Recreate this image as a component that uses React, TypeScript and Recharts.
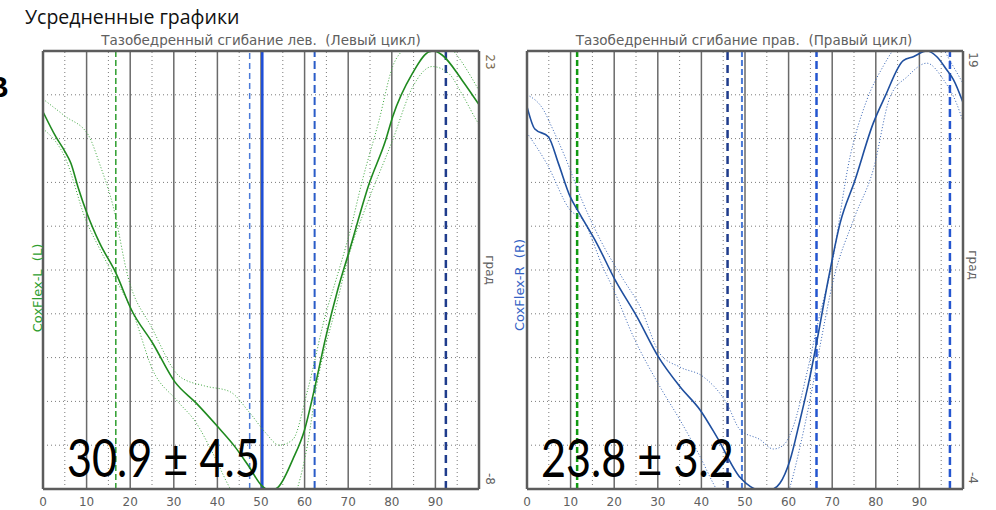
import React from "react";
import { LineChart, Line, XAxis, YAxis, CartesianGrid, ReferenceLine } from "recharts";

type Pt = { x: number; y: number };
const pts = (arr: number[][]): Pt[] => arr.map(([x, y]) => ({ x, y }));

// Левый цикл: среднее и ±СКО (град)
const leftMean = pts([
  [0, 18.7], [3, 16.9], [5, 15.9], [6.4, 15.05], [8, 13.4], [10.1, 11.5], [13, 9.4], [16.7, 7.3],
  [20.3, 4.67], [25.2, 2.3], [30.2, -0.4], [35.2, -1.94], [40.1, -3.6], [44, -5.0], [47, -6.3],
  [50.4, -7.84], [52, -8.1], [53.8, -7.9], [57.3, -5.9], [60, -3.8], [62.2, -1.0], [64.9, 2.8],
  [67.6, 6.1], [70.3, 8.9], [74.8, 13.6], [78.6, 16.7], [80.2, 18.35], [84.7, 21.4], [88.6, 22.95],
  [89.7, 23.0], [91.6, 22.7], [96.2, 20.9], [100, 19.2],
]);
const leftUpper = pts([
  [0, 19.6], [5, 18.4], [10.4, 17.05], [13, 15], [16.1, 12.0], [19.5, 7.0], [25, 3.4], [31.4, -0.05],
  [37, -0.7], [42.8, -1.1], [47.4, -2.6], [51, -4.0], [54.2, -4.9], [57.3, -4.5], [60.7, -1.0],
  [64.9, 4.45], [67.2, 6.8], [70.3, 10.1], [73.3, 13.9], [77, 18], [80.2, 21.9], [83.2, 23.3],
  [86, 24.2], [90, 24.2], [94.7, 22.8], [100, 20.2],
]);
const leftLower = pts([
  [0, 17.5], [5, 15.5], [10, 10.9], [13, 9], [16, 7.2], [20.7, 4.4], [25.2, 0.4], [30.6, -1.7],
  [35.2, -3.35], [39, -5.5], [42.8, -7.9], [46, -9.5], [52, -10.5], [56, -9.5], [58.4, -7.9],
  [60.7, -4.8], [62.6, -1.0], [67.2, 4.9], [70.5, 8.9], [74.1, 12.0], [80.2, 16.7], [84.7, 20.4],
  [89.3, 21.9], [93.1, 21.4], [96.2, 19.9], [99.6, 18.0], [100, 17.8],
]);

// Правый цикл
const rightMean = pts([
  [0, 16.08], [1.8, 14.9], [4.9, 14.5], [7.2, 13.1], [9.9, 11.35], [11.8, 10.56], [16, 8.9],
  [20.2, 6.98], [25.2, 5.05], [30.1, 2.95], [35.1, 1.37], [39.7, 0.15], [43.5, -1.25], [48.9, -3.4],
  [51.9, -3.96], [54, -4.1], [56.5, -4.0], [58, -3.7], [60.3, -2.5], [62.6, -0.4], [64.9, 1.9],
  [66.4, 3.65], [69.1, 7.0], [71.8, 9.95], [75.2, 12.2], [79.4, 15.2], [82.1, 16.6], [86.3, 18.5],
  [88.6, 18.7], [91.7, 19.0], [94, 18.7], [96.3, 18.0], [97.8, 17.5], [100, 16.3],
]);
const rightUpper = pts([
  [0, 16.7], [3.8, 15.9], [5.7, 15.0], [8.7, 13.45], [12.9, 11.0], [17, 9.0], [22.1, 7.0],
  [25.9, 5.6], [30.5, 3.1], [35.1, 2.4], [40.4, 1.9], [45.8, 0.5], [48.9, -0.9], [53.4, -1.4],
  [56.5, -1.9], [58.8, -1.7], [61.1, -0.7], [64.2, 2.1], [67.2, 5.2], [69.5, 7.3], [74.1, 13.45],
  [77.9, 16.4], [81.7, 18.2], [84, 19.06], [88, 20], [92, 20], [95, 19.3], [97, 18.5], [100, 17.3],
]);
const rightLower = pts([
  [0, 14.7], [4.5, 13.1], [9.9, 10.65], [12.9, 10.1], [17.5, 7.6], [19.8, 6.5], [24.4, 4.0],
  [30.5, 1.37], [35.1, -0.38], [39.7, -2.3], [42.7, -3.7], [46, -5], [52, -6], [57, -5.5],
  [60.3, -3.9], [62.6, -1.8], [64.9, 0.67], [67.2, 3.5], [70.3, 7.0], [75, 10.2], [79.4, 12.75],
  [83.3, 16.6], [87.2, 17.65], [91.7, 18.36], [95.5, 17.5], [98.5, 16.26], [100, 15.3],
]);

const xTicks = [0, 10, 20, 30, 40, 50, 60, 70, 80, 90];
const majorX = [10, 20, 30, 40, 50, 60, 70, 80, 90];
const minorX = [5, 15, 25, 35, 45, 55, 65, 75, 85, 95];

type EventLine = { x: number; color: string; width: number; dash?: string };
const leftEvents: EventLine[] = [
  { x: 16.7, color: "#2e9e2e", width: 1.5, dash: "6 3" },
  { x: 47.4, color: "#4a7ad8", width: 1.5, dash: "6 4" },
  { x: 50.3, color: "#1d4ed8", width: 2.5 },
  { x: 62.3, color: "#2a5cc8", width: 2, dash: "8 4" },
  { x: 92.4, color: "#1f3c8c", width: 2.5, dash: "8 5" },
];
const rightEvents: EventLine[] = [
  { x: 11.5, color: "#119a11", width: 2.5, dash: "6 3" },
  { x: 46.0, color: "#1f3c8c", width: 2.5, dash: "8 5" },
  { x: 49.3, color: "#4a7ad8", width: 2, dash: "6 3" },
  { x: 66.4, color: "#2456d0", width: 2.5, dash: "8 4" },
  { x: 97.0, color: "#2456d0", width: 2.5, dash: "8 4" },
];

const gridTicks = (min: number, max: number) =>
  Array.from({ length: 21 }, (_, i) => min + ((max - min) * i) / 20);

type PanelProps = {
  left: number;
  yMin: number;
  yMax: number;
  mean: Pt[];
  upper: Pt[];
  lower: Pt[];
  color: string;
  bandColor: string;
  events: EventLine[];
};

const border = "#5c5c5c";

const Panel = ({ left, yMin, yMax, mean, upper, lower, color, bandColor, events }: PanelProps) => (
  <div style={{ position: "absolute", left, top: 0 }}>
    <LineChart width={500} height={510} margin={{ top: 51, right: 21, bottom: 0, left: 43 }}>
      <CartesianGrid vertical={false} stroke="#7a7a7a" strokeDasharray="1 3" />
      <XAxis
        type="number"
        dataKey="x"
        domain={[0, 100]}
        ticks={xTicks}
        height={21}
        axisLine={false}
        tickLine={false}
        allowDataOverflow
        tick={{ fill: "#606060", fontSize: 12, fontFamily: "DejaVu Sans" }}
      />
      <YAxis hide type="number" domain={[yMin, yMax]} ticks={gridTicks(yMin, yMax)} allowDataOverflow />
      {minorX.map((x) => (
        <ReferenceLine key={"m" + x} x={x} stroke="#7a7a7a" strokeDasharray="1 3" />
      ))}
      {majorX.map((x) => (
        <ReferenceLine key={"M" + x} x={x} stroke="#6a6a6a" strokeWidth={1.5} />
      ))}
      {events.map((e) => (
        <ReferenceLine key={"e" + e.x} x={e.x} stroke={e.color} strokeWidth={e.width} strokeDasharray={e.dash} />
      ))}
      <Line data={upper} type="monotone" dataKey="y" stroke={bandColor} strokeWidth={1} strokeDasharray="1 2" dot={false} isAnimationActive={false} />
      <Line data={lower} type="monotone" dataKey="y" stroke={bandColor} strokeWidth={1} strokeDasharray="1 2" dot={false} isAnimationActive={false} />
      <Line data={mean} type="monotone" dataKey="y" stroke={color} strokeWidth={1.6} dot={false} isAnimationActive={false} />
      <ReferenceLine x={0} stroke={border} strokeWidth={2.5} />
      <ReferenceLine x={100} stroke={border} strokeWidth={2.5} />
      <ReferenceLine y={yMin} stroke={border} strokeWidth={2.5} />
      <ReferenceLine y={yMax} stroke={border} strokeWidth={2.5} />
    </LineChart>
  </div>
);

type TagProps = { x: number; y: number; rot: number; color: string; size: number; children: React.ReactNode };
const Tag = ({ x, y, rot, color, size, children }: TagProps) => (
  <div
    style={{
      position: "absolute",
      left: x,
      top: y,
      transform: `translate(-50%, -50%) rotate(${rot}deg)`,
      whiteSpace: "pre",
      color,
      fontSize: size,
      fontFamily: "DejaVu Sans",
      lineHeight: 1,
    }}
  >
    {children}
  </div>
);

const bigText: React.CSSProperties = {
  position: "absolute",
  fontFamily: "Lato",
  fontSize: 52,
  color: "#000",
  lineHeight: 1,
  whiteSpace: "nowrap",
  transform: "scaleX(0.83)",
  transformOrigin: "left top",
};

export default function App() {
  return (
    <div style={{ position: "absolute", left: 0, top: 0, width: 996, height: 510, background: "#fff", overflow: "hidden" }}>
      <div style={{ position: "absolute", left: 25, top: 3, fontFamily: "Open Sans", fontSize: 19.5, color: "#111", whiteSpace: "nowrap" }}>
        Усредненные графики
      </div>
      <div style={{ position: "absolute", left: -13, top: 70, fontFamily: "Liberation Sans", fontWeight: "bold", fontSize: 30 }}>
        В
      </div>

      <Panel left={0} yMin={-8} yMax={23} mean={leftMean} upper={leftUpper} lower={leftLower}
        color="#1f8a1f" bandColor="#3da63d" events={leftEvents} />
      <Panel left={484} yMin={-4} yMax={19} mean={rightMean} upper={rightUpper} lower={rightLower}
        color="#1f4f9f" bandColor="#3563b5" events={rightEvents} />

      <Tag x={261} y={41} rot={0} color="#606060" size={13.5}>Тазобедренный сгибание лев.  (Левый цикл)</Tag>
      <Tag x={744} y={41} rot={0} color="#606060" size={13.5}>Тазобедренный сгибание прав.  (Правый цикл)</Tag>

      <Tag x={37} y={288} rot={-90} color="#2e9e2e" size={13}>CoxFlex-L  (L)</Tag>
      <Tag x={519} y={285} rot={-90} color="#3563c5" size={13}>CoxFlex-R  (R)</Tag>

      <Tag x={490} y={62} rot={90} color="#7a6a50" size={12}>23</Tag>
      <Tag x={490} y={270} rot={90} color="#606060" size={12}>град</Tag>
      <Tag x={490} y={479} rot={90} color="#606060" size={12}>-8</Tag>
      <Tag x={973} y={60} rot={90} color="#606060" size={12}>19</Tag>
      <Tag x={973} y={265} rot={90} color="#606060" size={12}>град</Tag>
      <Tag x={973} y={478} rot={90} color="#606060" size={12}>-4</Tag>

      <div style={{ ...bigText, left: 67, top: 431 }}>30.9 ± 4.5</div>
      <div style={{ ...bigText, left: 541, top: 431 }}>23.8 ± 3.2</div>
    </div>
  );
}
